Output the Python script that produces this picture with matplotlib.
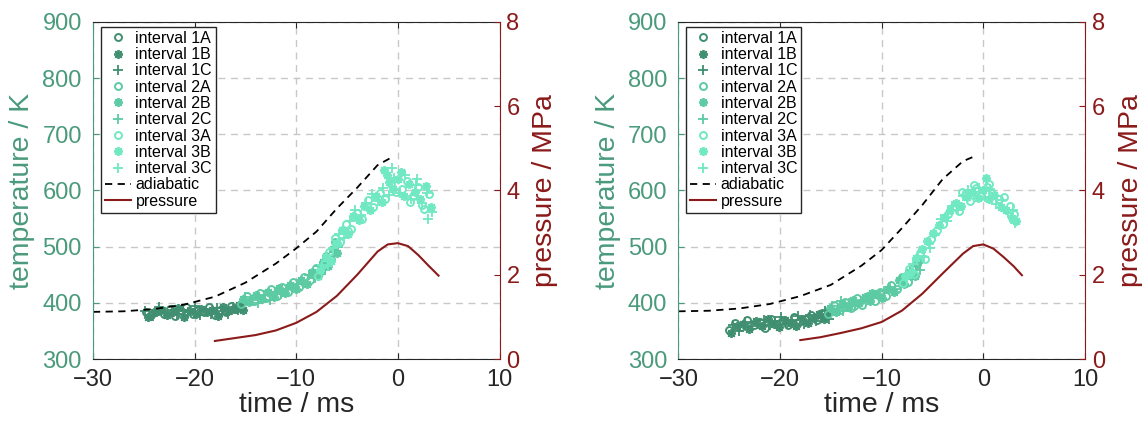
import matplotlib.pyplot as plt

plt.rcParams["font.family"] = ["Liberation Sans", "DejaVu Sans"]

# ---------------- left panel data ----------------
left_t_1a = [-24.3, -23.6, -23.0, -22.4, -21.9, -21.3, -20.8, -20.2, -19.7, -19.1, -18.6, -18.0, -17.5, -16.9, -16.4, -15.9, -15.5, -24.8]
left_T_1a = [378, 386, 381, 390, 376, 385, 392, 380, 387, 383, 393, 379, 388, 384, 395, 389, 392, 383]
left_t_1b = [-24.6, -24.0, -23.3, -22.7, -22.1, -21.6, -21.0, -20.5, -19.9, -19.4, -18.8, -18.3, -17.7, -17.2, -16.7, -16.1, -15.6, -15.2]
left_T_1b = [374, 383, 388, 379, 384, 391, 375, 386, 381, 390, 384, 387, 376, 392, 385, 390, 396, 388]
left_t_1c = [-24.9, -24.1, -23.5, -22.9, -22.2, -21.7, -21.1, -20.6, -20.0, -19.5, -18.9, -18.4, -17.8, -17.3, -16.7, -16.2, -15.7, -15.3]
left_T_1c = [385, 377, 392, 384, 388, 380, 387, 383, 394, 378, 386, 381, 391, 386, 380, 393, 387, 398]

left_t_2a = [-15.4, -14.8, -14.2, -13.6, -13.0, -12.5, -11.9, -11.4, -10.8, -10.3, -9.7, -9.2, -8.6, -8.1, -7.6, -7.1, -6.6, -6.2]
left_T_2a = [398, 412, 404, 418, 409, 424, 413, 428, 420, 437, 428, 446, 441, 462, 457, 484, 478, 508]
left_t_2b = [-15.2, -14.6, -14.0, -13.4, -12.8, -12.2, -11.7, -11.1, -10.6, -10.0, -9.5, -8.9, -8.4, -7.9, -7.4, -6.9, -6.4, -6.0]
left_T_2b = [407, 401, 414, 407, 419, 411, 426, 417, 432, 424, 440, 434, 455, 447, 472, 465, 495, 488]
left_t_2c = [-15.0, -14.4, -13.8, -13.2, -12.6, -12.0, -11.5, -10.9, -10.4, -9.8, -9.3, -8.7, -8.2, -7.7, -7.2, -6.8, -6.3, -5.9]
left_T_2c = [410, 405, 400, 414, 406, 420, 415, 425, 429, 433, 438, 450, 444, 466, 459, 475, 490, 500]

left_t_3a = [-7.9, -7.3, -6.8, -6.2, -5.7, -5.1, -4.6, -4.0, -3.5, -2.9, -2.4, -1.8, -1.3, -0.7, -0.2, 0.4, 0.9, 1.5, 2.0, 2.6, 3.1, -4.9, 1.2, 2.4]
left_T_3a = [447, 470, 490, 515, 508, 540, 532, 560, 550, 583, 571, 596, 584, 611, 598, 603, 617, 591, 606, 567, 594, 528, 580, 575]
left_t_3b = [-7.7, -7.1, -6.6, -6.0, -5.5, -4.9, -4.4, -3.8, -3.3, -2.7, -2.2, -1.6, -1.1, -0.5, 0.0, 0.6, 1.1, 1.7, 2.2, 2.8, 3.3, -1.4, -0.9, 0.3]
left_T_3b = [458, 482, 475, 507, 530, 522, 555, 547, 573, 565, 590, 579, 628, 602, 620, 590, 612, 598, 585, 608, 571, 637, 615, 632]
left_t_3c = [-7.5, -6.9, -6.4, -5.8, -5.3, -4.7, -4.2, -3.6, -3.1, -2.5, -2.0, -1.5, -0.9, -0.4, 0.2, 0.7, 1.3, 1.8, 2.4, 2.9, 3.4, -0.6, 1.9, 3.0]
left_T_3c = [468, 465, 497, 522, 515, 545, 565, 557, 578, 593, 582, 605, 592, 622, 595, 628, 585, 609, 578, 596, 562, 640, 620, 550]

left_t_adiab = [-30, -27, -24, -21, -18, -15, -12, -10, -8, -6, -4, -2, -0.4]
left_T_adiab = [384, 385, 389, 397, 411, 436, 470, 497, 527, 568, 605, 645, 661]

left_t_p = [-18, -16, -14, -12, -10, -8, -6, -4, -2, -1, 0, 1, 2, 3, 4]
left_p = [0.43, 0.5, 0.57, 0.68, 0.86, 1.12, 1.5, 2.0, 2.55, 2.72, 2.75, 2.68, 2.47, 2.22, 1.98]

# ---------------- right panel data ----------------
right_t_1a = [-25.0, -24.4, -23.8, -23.2, -22.6, -22.0, -21.5, -20.9, -20.3, -19.8, -19.2, -18.6, -18.1, -17.5, -16.9, -16.4, -15.9, -15.5]
right_T_1a = [352, 365, 357, 369, 360, 366, 356, 371, 363, 368, 360, 374, 366, 372, 378, 369, 382, 376]
right_t_1b = [-24.8, -24.2, -23.6, -23.0, -22.4, -21.8, -21.2, -20.6, -20.1, -19.5, -18.9, -18.4, -17.8, -17.2, -16.7, -16.2, -15.7, -15.3]
right_T_1b = [346, 358, 362, 354, 367, 359, 372, 362, 357, 370, 365, 358, 371, 365, 373, 381, 372, 384]
right_t_1c = [-24.6, -24.0, -23.4, -22.8, -22.2, -21.6, -21.0, -20.5, -19.9, -19.3, -18.8, -18.2, -17.6, -17.0, -16.5, -16.0, -15.6, -15.2]
right_T_1c = [360, 350, 366, 358, 363, 370, 361, 367, 374, 362, 369, 376, 363, 379, 368, 375, 386, 372]

right_t_2a = [-15.3, -14.7, -14.1, -13.6, -13.0, -12.4, -11.9, -11.3, -10.7, -10.2, -9.6, -9.1, -8.5, -8.0, -7.4, -6.9, -6.5, -12.7]
right_T_2a = [380, 396, 388, 402, 391, 408, 397, 412, 404, 420, 412, 432, 425, 446, 438, 462, 470, 394]
right_t_2b = [-15.1, -14.5, -13.9, -13.3, -12.8, -12.2, -11.6, -11.1, -10.5, -10.0, -9.4, -8.8, -8.3, -7.8, -7.2, -6.7, -6.3, -10.9]
right_T_2b = [391, 384, 398, 392, 405, 399, 411, 403, 415, 409, 425, 419, 440, 433, 455, 448, 476, 418]
right_t_2c = [-14.9, -14.3, -13.8, -13.2, -12.6, -12.0, -11.5, -10.9, -10.3, -9.8, -9.2, -8.7, -8.1, -7.6, -7.0, -6.6, -6.2, -14.0]
right_T_2c = [395, 389, 385, 400, 394, 404, 409, 413, 408, 421, 428, 424, 442, 450, 446, 465, 458, 404]

right_t_3a = [-7.9, -7.3, -6.8, -6.2, -5.7, -5.1, -4.6, -4.0, -3.5, -2.9, -2.4, -1.8, -1.3, -0.7, -0.2, 0.4, 0.9, 1.5, 2.0, 2.6, 3.0, -2.1, -0.9, 0.6]
right_T_3a = [436, 460, 452, 488, 478, 514, 530, 540, 558, 572, 563, 592, 581, 604, 590, 607, 596, 585, 589, 573, 558, 598, 610, 612]
right_t_3b = [-7.7, -7.1, -6.6, -6.0, -5.5, -4.9, -4.4, -3.8, -3.3, -2.7, -2.2, -1.6, -1.1, -0.5, 0.0, 0.6, 1.1, 1.7, 2.2, 2.8, 3.2, 0.3]
right_T_3b = [448, 455, 480, 495, 510, 525, 538, 552, 565, 578, 572, 588, 598, 586, 600, 584, 592, 570, 566, 551, 545, 622]
right_t_3c = [-7.5, -6.9, -6.4, -5.8, -5.3, -4.7, -4.2, -3.6, -3.1, -2.5, -2.0, -1.5, -0.9, -0.4, 0.2, 0.7, 1.3, 1.8, 2.4, 2.9, 3.1, -5.2]
right_T_3c = [444, 470, 484, 482, 505, 520, 550, 546, 572, 566, 590, 600, 594, 605, 588, 603, 576, 583, 560, 566, 542, 497]

right_t_adiab = [-30, -27, -24, -21, -18, -15, -12, -10, -8, -6, -4, -2, -0.7]
right_T_adiab = [385, 386, 390, 398, 412, 432, 466, 494, 533, 574, 620, 652, 662]

right_t_p = [-18, -16, -14, -12, -10, -8, -6, -4, -2, -1, 0, 1, 2, 3, 3.8]
right_p = [0.45, 0.52, 0.62, 0.73, 0.88, 1.15, 1.55, 2.03, 2.5, 2.68, 2.72, 2.62, 2.42, 2.2, 1.99]

interval_names = ["1", "2", "3"]
sub_names = ["A", "B", "C"]

# colours / styles
col_int = ["#3f8f70", "#5ccaa2", "#70e8c2"]
col_temp = "#4a9a7c"
col_pres = "#8b1a1a"
col_black = "#262626"
markers = {"A": "o", "B": (8, 2, 0), "C": "+"}


def draw_panel(ax, series, t_ad, T_ad, t_p, p):
    handles = []
    for i, name in enumerate(interval_names):
        for s in sub_names:
            t, T = series[name + s]
            kw = dict(linestyle="none", marker=markers[s], color=col_int[i])
            if s == "A":
                kw.update(markersize=5, markerfacecolor="none", markeredgewidth=1.4)
            else:
                kw.update(markersize=6.5, markeredgewidth=1.3)
            h, = ax.plot(t, T, label="interval " + name + s, **kw)
            handles.append(h)

    h_ad, = ax.plot(t_ad, T_ad, "--", color="black", lw=1.3, dashes=(4, 3), label="adiabatic")
    handles.append(h_ad)

    ax.set_xlim(-30, 10)
    ax.set_ylim(300, 900)
    ax.set_xticks([-30, -20, -10, 0, 10])
    ax.set_yticks([300, 400, 500, 600, 700, 800, 900])
    ax.grid(True, linestyle=(0, (5, 4)), color="#c8c8c8", lw=1)
    ax.set_axisbelow(True)
    ax.tick_params(axis="x", direction="in", top=True, labelsize=17, colors=col_black, length=4, pad=7)
    ax.tick_params(axis="y", direction="in", labelsize=17, colors=col_temp, length=4, pad=8)
    ax.set_xlabel("time / ms", fontsize=20.5, color=col_black, labelpad=1)
    ax.set_ylabel("temperature / K", fontsize=20.5, color=col_temp, labelpad=5)
    ax.spines["left"].set_color(col_temp)
    ax.spines["top"].set_color(col_black)
    ax.spines["bottom"].set_color(col_black)
    ax.spines["right"].set_visible(False)

    ax2 = ax.twinx()
    h_p, = ax2.plot(t_p, p, "-", color=col_pres, lw=1.5, label="pressure")
    handles.append(h_p)
    ax2.set_ylim(0, 8)
    ax2.set_yticks([0, 2, 4, 6, 8])
    ax2.tick_params(axis="y", direction="in", labelsize=17, colors=col_pres, length=4, pad=5)
    ax2.set_ylabel("pressure / MPa", fontsize=20.5, color=col_pres, labelpad=9)
    for sp in ["left", "top", "bottom"]:
        ax2.spines[sp].set_visible(False)
    ax2.spines["right"].set_color(col_pres)

    leg = ax2.legend(handles=handles, loc="upper left", bbox_to_anchor=(0.02, 0.985),
                     fontsize=11.5, numpoints=1, handlelength=1.6, handletextpad=0.3,
                     labelspacing=0.08, borderpad=0.25, borderaxespad=0.0,
                     fancybox=False, framealpha=1, edgecolor=col_black)
    leg.get_frame().set_linewidth(1.0)


fig = plt.figure(figsize=(11.42, 4.28), dpi=100)
ax_l = fig.add_axes([0.0814, 0.161, 0.356, 0.788])
ax_r = fig.add_axes([0.594, 0.161, 0.356, 0.788])

left_series = {
    "1A": (left_t_1a, left_T_1a), "1B": (left_t_1b, left_T_1b), "1C": (left_t_1c, left_T_1c),
    "2A": (left_t_2a, left_T_2a), "2B": (left_t_2b, left_T_2b), "2C": (left_t_2c, left_T_2c),
    "3A": (left_t_3a, left_T_3a), "3B": (left_t_3b, left_T_3b), "3C": (left_t_3c, left_T_3c),
}
right_series = {
    "1A": (right_t_1a, right_T_1a), "1B": (right_t_1b, right_T_1b), "1C": (right_t_1c, right_T_1c),
    "2A": (right_t_2a, right_T_2a), "2B": (right_t_2b, right_T_2b), "2C": (right_t_2c, right_T_2c),
    "3A": (right_t_3a, right_T_3a), "3B": (right_t_3b, right_T_3b), "3C": (right_t_3c, right_T_3c),
}

draw_panel(ax_l, left_series, left_t_adiab, left_T_adiab, left_t_p, left_p)
draw_panel(ax_r, right_series, right_t_adiab, right_T_adiab, right_t_p, right_p)

plt.savefig("out.png", dpi=100)
